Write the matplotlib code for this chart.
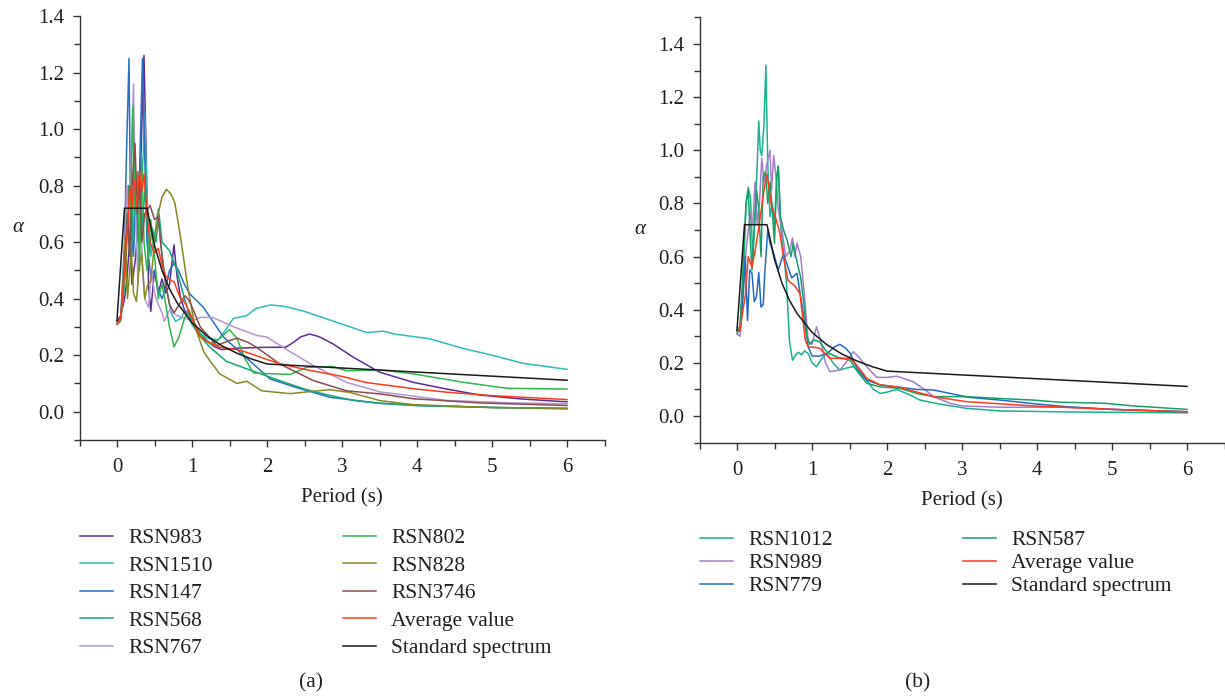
import matplotlib
matplotlib.use("Agg")
import matplotlib.pyplot as plt
from matplotlib.ticker import MultipleLocator, FormatStrFormatter
from matplotlib.lines import Line2D

plt.rcParams['font.family'] = ['Liberation Serif', 'DejaVu Serif']

# ---------------- Panel (a) data ----------------
rsn983_t = [0, 0.05, 0.1, 0.13, 0.17, 0.2, 0.25, 0.3, 0.33, 0.36, 0.39, 0.42, 0.45, 0.5, 0.55, 0.6, 0.65, 0.7,
            0.76, 0.8, 0.85, 0.9, 1.0, 1.1, 1.2, 1.3, 1.4, 1.6, 2.0, 2.25, 2.35, 2.45, 2.57, 2.7, 2.88, 3.15,
            3.5, 3.95, 4.4, 4.84, 5.4, 6.0]
rsn983_a = [0.32, 0.34, 0.40, 0.46, 0.61, 0.45, 0.55, 0.75, 1.0, 1.26, 0.9, 0.45, 0.355, 0.5, 0.42, 0.47, 0.42, 0.45,
            0.59, 0.48, 0.40, 0.36, 0.33, 0.28, 0.25, 0.23, 0.22, 0.225, 0.228, 0.228, 0.245, 0.265, 0.275, 0.265, 0.24, 0.193,
            0.14, 0.104, 0.08, 0.059, 0.045, 0.035]

rsn1510_t = [0, 0.05, 0.1, 0.15, 0.2, 0.25, 0.3, 0.34, 0.37, 0.4, 0.45, 0.5, 0.55, 0.58, 0.65, 0.72, 0.78, 0.85,
             0.9, 1.0, 1.1, 1.2, 1.35, 1.45, 1.55, 1.73, 1.85, 2.05, 2.25, 2.5, 3.0, 3.33, 3.55, 3.7, 4.17, 4.6,
             5.0, 5.42, 6.0]
rsn1510_a = [0.31, 0.33, 0.45, 0.7, 0.55, 0.8, 0.6, 0.85, 1.06, 0.75, 0.55, 0.62, 0.72, 0.6, 0.45, 0.35, 0.32, 0.33,
             0.355, 0.31, 0.28, 0.26, 0.255, 0.29, 0.33, 0.34, 0.365, 0.378, 0.372, 0.355, 0.31, 0.28, 0.285, 0.275, 0.258, 0.225,
             0.2, 0.171, 0.15]

rsn147_t = [0, 0.05, 0.1, 0.13, 0.16, 0.18, 0.22, 0.25, 0.28, 0.31, 0.34, 0.37, 0.4, 0.45, 0.5, 0.55, 0.6, 0.65,
            0.7, 0.76, 0.82, 0.9, 0.97, 1.15, 1.42, 1.77, 2.04, 2.4, 2.84, 3.5, 4.0, 5.0, 6.0]
rsn147_a = [0.32, 0.33, 0.6, 0.95, 1.25, 0.7, 0.55, 0.75, 0.6, 0.95, 1.25, 0.9, 0.6, 0.48, 0.5, 0.43, 0.4, 0.44,
            0.5, 0.525, 0.5, 0.45, 0.417, 0.37, 0.264, 0.18, 0.116, 0.085, 0.051, 0.03, 0.022, 0.015, 0.012]

rsn568_t = [0, 0.05, 0.1, 0.15, 0.2, 0.23, 0.26, 0.3, 0.33, 0.38, 0.42, 0.47, 0.52, 0.56, 0.6, 0.7, 0.8, 0.9,
            1.0, 1.1, 1.24, 1.46, 1.8, 2.17, 2.5, 2.8, 3.15, 3.5, 4.0, 5.0, 6.0]
rsn568_a = [0.31, 0.32, 0.5, 0.8, 0.6, 0.9, 0.7, 0.85, 0.65, 0.8, 0.55, 0.65, 0.6, 0.7, 0.6, 0.57, 0.5, 0.4,
            0.31, 0.27, 0.228, 0.178, 0.145, 0.11, 0.08, 0.06, 0.04, 0.03, 0.022, 0.015, 0.01]

rsn767_t = [0, 0.05, 0.1, 0.13, 0.16, 0.19, 0.22, 0.25, 0.28, 0.31, 0.34, 0.37, 0.42, 0.46, 0.5, 0.55, 0.6, 0.63,
            0.7, 0.8, 0.92, 1.0, 1.11, 1.28, 1.55, 1.86, 2.0, 2.26, 2.62, 3.06, 3.51, 4.4, 5.2, 6.0]
rsn767_a = [0.31, 0.33, 0.55, 0.8, 0.6, 0.9, 1.16, 0.7, 0.45, 0.75, 0.5, 0.4, 0.37, 0.5, 0.42, 0.38, 0.35, 0.32,
            0.36, 0.34, 0.33, 0.32, 0.334, 0.333, 0.301, 0.27, 0.264, 0.22, 0.163, 0.104, 0.07, 0.04, 0.032, 0.028]

rsn802_t = [0, 0.05, 0.1, 0.14, 0.17, 0.21, 0.24, 0.27, 0.3, 0.33, 0.36, 0.4, 0.45, 0.5, 0.55, 0.6, 0.65, 0.7,
            0.76, 0.82, 0.9, 0.96, 1.05, 1.15, 1.25, 1.35, 1.5, 1.6, 1.7, 1.82, 2.0, 2.31, 2.53, 2.88, 3.06,
            3.51, 3.95, 4.62, 5.2, 6.0]
rsn802_a = [0.31, 0.33, 0.45, 0.7, 0.55, 1.08, 0.7, 0.85, 0.5, 0.9, 0.6, 0.5, 0.68, 0.55, 0.4, 0.45, 0.38, 0.3,
            0.23, 0.26, 0.33, 0.36, 0.3, 0.26, 0.24, 0.255, 0.29, 0.26, 0.19, 0.137, 0.135, 0.132, 0.157, 0.16, 0.145,
            0.148, 0.134, 0.104, 0.083, 0.08]

rsn828_t = [0, 0.05, 0.08, 0.11, 0.14, 0.17, 0.19, 0.22, 0.26, 0.29, 0.33, 0.37, 0.41, 0.45, 0.5, 0.55, 0.6, 0.66,
            0.72, 0.77, 0.84, 0.95, 1.04, 1.16, 1.24, 1.37, 1.6, 1.73, 1.93, 2.31, 2.6, 2.84, 3.11, 3.51, 3.95,
            5.0, 6.0]
rsn828_a = [0.31, 0.33, 0.45, 0.62, 0.4, 0.5, 0.58, 0.42, 0.39, 0.5, 0.56, 0.4, 0.45, 0.46, 0.6, 0.7, 0.76, 0.787,
            0.77, 0.74, 0.63, 0.43, 0.3, 0.21, 0.18, 0.134, 0.1, 0.108, 0.074, 0.064, 0.072, 0.078, 0.068, 0.039, 0.025,
            0.015, 0.012]

rsn3746_t = [0, 0.05, 0.1, 0.14, 0.17, 0.2, 0.24, 0.27, 0.3, 0.33, 0.37, 0.44, 0.5, 0.55, 0.6, 0.65, 0.7, 0.76,
             0.83, 0.91, 0.97, 1.11, 1.33, 1.48, 1.6, 1.75, 1.86, 2.17, 2.62, 3.06, 3.51, 3.95, 4.84, 6.0]
rsn3746_a = [0.32, 0.33, 0.5, 0.7, 0.55, 0.8, 0.95, 0.7, 0.85, 0.6, 0.7, 0.73, 0.68, 0.69, 0.55, 0.45, 0.38, 0.35,
             0.38, 0.41, 0.39, 0.3, 0.234, 0.25, 0.26, 0.245, 0.228, 0.169, 0.11, 0.074, 0.063, 0.046, 0.031, 0.022]

avg_a_t = [0, 0.05, 0.1, 0.14, 0.17, 0.2, 0.23, 0.26, 0.3, 0.33, 0.36, 0.4, 0.44, 0.5, 0.55, 0.6, 0.65, 0.71,
           0.76, 0.84, 0.92, 1.0, 1.11, 1.2, 1.37, 1.6, 1.73, 2.0, 2.17, 2.5, 3.0, 3.33, 4.0, 4.4, 5.0, 6.0]
avg_a_a = [0.31, 0.33, 0.5, 0.65, 0.8, 0.72, 0.82, 0.72, 0.85, 0.78, 0.84, 0.7, 0.6, 0.56, 0.578, 0.52, 0.48, 0.466,
           0.46, 0.405, 0.38, 0.33, 0.264, 0.25, 0.228, 0.22, 0.21, 0.185, 0.17, 0.15, 0.125, 0.103, 0.08, 0.069, 0.057, 0.043]

# standard design spectrum
std_t = [0, 0.1, 0.4, 0.5, 0.6, 0.7, 0.8, 1.0, 1.2, 1.4, 1.6, 1.8, 2.0, 6.0]
std_a = [0.324, 0.72, 0.72, 0.589, 0.50, 0.435, 0.386, 0.315, 0.268, 0.233, 0.207, 0.186, 0.169, 0.1115]

# ---------------- Panel (b) data ----------------
rsn1012_t = [0, 0.04, 0.08, 0.12, 0.15, 0.18, 0.21, 0.24, 0.27, 0.29, 0.31, 0.33, 0.36, 0.385, 0.41, 0.44, 0.47, 0.5,
             0.53, 0.55, 0.58, 0.62, 0.66, 0.7, 0.74, 0.78, 0.82, 0.86, 0.9, 0.95, 1.0, 1.06, 1.14, 1.2, 1.28, 1.37,
             1.45, 1.55, 1.65, 1.73, 1.82, 1.91, 2.0, 2.13, 2.3, 2.44, 2.7, 3.06, 3.51, 4.5, 6.0]
rsn1012_a = [0.32, 0.34, 0.5, 0.8, 0.86, 0.82, 0.6, 0.75, 0.95, 1.11, 1.0, 0.98, 1.1, 1.32, 0.95, 0.75, 0.8, 0.72,
             0.9, 0.94, 0.72, 0.62, 0.5, 0.28, 0.21, 0.23, 0.24, 0.23, 0.245, 0.235, 0.2, 0.186, 0.22, 0.236, 0.2, 0.173,
             0.18, 0.186, 0.16, 0.135, 0.1, 0.085, 0.09, 0.1, 0.08, 0.06, 0.045, 0.029, 0.019, 0.015, 0.012]

rsn989_t = [0, 0.04, 0.08, 0.12, 0.15, 0.18, 0.21, 0.24, 0.27, 0.3, 0.33, 0.36, 0.4, 0.44, 0.46, 0.49, 0.52, 0.55,
            0.6, 0.65, 0.7, 0.74, 0.77, 0.8, 0.85, 0.9, 0.95, 1.0, 1.06, 1.12, 1.18, 1.24, 1.37, 1.45, 1.55, 1.63,
            1.73, 1.86, 2.0, 2.13, 2.35, 2.5, 2.62, 2.84, 3.0, 3.51, 4.4, 5.0, 6.0]
rsn989_a = [0.31, 0.30, 0.45, 0.62, 0.7, 0.76, 0.72, 0.88, 0.72, 0.8, 0.97, 0.88, 0.95, 1.0, 0.85, 0.98, 0.9, 0.78,
            0.7, 0.6, 0.62, 0.67, 0.6, 0.65, 0.6, 0.45, 0.28, 0.27, 0.336, 0.28, 0.2, 0.167, 0.173, 0.2, 0.242, 0.22,
            0.186, 0.146, 0.145, 0.15, 0.129, 0.1, 0.073, 0.048, 0.038, 0.033, 0.033, 0.025, 0.016]

rsn779_t = [0, 0.04, 0.08, 0.11, 0.14, 0.17, 0.2, 0.23, 0.26, 0.29, 0.32, 0.35, 0.37, 0.41, 0.44, 0.48, 0.55, 0.62,
            0.68, 0.73, 0.8, 0.87, 0.95, 1.0, 1.1, 1.2, 1.3, 1.37, 1.45, 1.51, 1.6, 1.73, 1.91, 2.17, 2.4, 2.62,
            2.84, 3.1, 3.51, 4.0, 4.4, 5.0, 6.0]
rsn779_a = [0.32, 0.32, 0.45, 0.6, 0.36, 0.55, 0.537, 0.43, 0.45, 0.54, 0.41, 0.42, 0.537, 0.7, 0.65, 0.62, 0.55, 0.61,
            0.56, 0.52, 0.537, 0.41, 0.26, 0.226, 0.225, 0.236, 0.26, 0.27, 0.255, 0.236, 0.18, 0.135, 0.117, 0.108, 0.1, 0.098,
            0.085, 0.07, 0.06, 0.045, 0.035, 0.025, 0.016]

rsn587_t = [0, 0.04, 0.08, 0.12, 0.15, 0.18, 0.2, 0.23, 0.26, 0.29, 0.32, 0.35, 0.38, 0.41, 0.44, 0.47, 0.5, 0.53,
            0.55, 0.58, 0.62, 0.67, 0.72, 0.75, 0.8, 0.85, 0.9, 0.93, 0.97, 1.02, 1.1, 1.2, 1.35, 1.51, 1.6, 1.73,
            1.9, 2.17, 2.4, 2.62, 3.06, 3.5, 3.95, 4.3, 4.62, 4.9, 5.28, 6.0]
rsn587_a = [0.31, 0.33, 0.55, 0.8, 0.85, 0.65, 0.55, 0.7, 0.85, 0.78, 0.6, 0.9, 0.92, 0.8, 0.88, 0.78, 0.65, 0.9,
            0.94, 0.75, 0.7, 0.66, 0.6, 0.65, 0.58, 0.52, 0.4, 0.3, 0.27, 0.286, 0.28, 0.24, 0.22, 0.21, 0.17, 0.123,
            0.11, 0.104, 0.085, 0.073, 0.073, 0.066, 0.06, 0.052, 0.05, 0.048, 0.038, 0.025]

avg_b_t = [0, 0.04, 0.08, 0.11, 0.15, 0.2, 0.24, 0.28, 0.33, 0.36, 0.4, 0.43, 0.46, 0.51, 0.57, 0.62, 0.68, 0.77,
           0.84, 0.91, 0.95, 1.05, 1.1, 1.24, 1.51, 1.6, 1.73, 1.91, 2.17, 2.4, 2.62, 3.06, 3.95, 5.0, 6.0]
avg_b_a = [0.32, 0.32, 0.40, 0.45, 0.6, 0.56, 0.62, 0.69, 0.79, 0.85, 0.91, 0.85, 0.79, 0.75, 0.69, 0.6, 0.51, 0.49,
           0.46, 0.286, 0.26, 0.258, 0.255, 0.217, 0.217, 0.19, 0.142, 0.117, 0.108, 0.09, 0.073, 0.054, 0.038, 0.025, 0.016]

# ---------------- styling ----------------
labels_a = ["RSN983", "RSN1510", "RSN147", "RSN568", "RSN767",
            "RSN802", "RSN828", "RSN3746", "Average value", "Standard spectrum"]
colors_a = ["#5c2d91", "#2bbcbc", "#2771c0", "#12a879", "#b496d2",
            "#2db84a", "#878a1e", "#8c4b4b", "#ff3a1a", "#1a1a1a"]
series_a = [(rsn983_t, rsn983_a), (rsn1510_t, rsn1510_a), (rsn147_t, rsn147_a), (rsn568_t, rsn568_a),
            (rsn767_t, rsn767_a), (rsn802_t, rsn802_a), (rsn828_t, rsn828_a), (rsn3746_t, rsn3746_a),
            (avg_a_t, avg_a_a), (std_t, std_a)]

labels_b = ["RSN1012", "RSN989", "RSN779", "RSN587", "Average value", "Standard spectrum"]
colors_b = ["#19b38e", "#a67ccc", "#1f6cc4", "#12a267", "#ff3a1a", "#1a1a1a"]
series_b = [(rsn1012_t, rsn1012_a), (rsn989_t, rsn989_a), (rsn779_t, rsn779_a), (rsn587_t, rsn587_a),
            (avg_b_t, avg_b_a), (std_t, std_a)]

W, H = 1225, 697
fig = plt.figure(figsize=(W / 100, H / 100), dpi=100)

ax1 = fig.add_axes([79.5 / W, 1 - 440 / H, 525 / W, (440 - 16) / H])
ax2 = fig.add_axes([699.5 / W, 1 - 442.6 / H, 525 / W, (442.6 - 17.4) / H])

txtcol = "#231f20"
tickfs = 15

def style(ax, ytop):
    ax.set_xlim(-0.5, 6.5)
    ax.set_ylim(-0.1, ytop)
    for s in ("top", "right"):
        ax.spines[s].set_visible(False)
    for s in ("left", "bottom"):
        ax.spines[s].set_color("#333333")
        ax.spines[s].set_linewidth(1.0)
    ax.xaxis.set_major_locator(MultipleLocator(1))
    ax.xaxis.set_minor_locator(MultipleLocator(0.5))
    ax.yaxis.set_major_locator(MultipleLocator(0.2))
    ax.yaxis.set_minor_locator(MultipleLocator(0.1))
    ax.yaxis.set_major_formatter(FormatStrFormatter("%.1f"))
    ax.tick_params(which="major", direction="out", length=5, width=1.0, color="#333333",
                   labelsize=tickfs, labelcolor=txtcol, pad=6)
    ax.tick_params(axis="x", which="major", pad=8)
    ax.tick_params(which="minor", direction="out", length=4, width=1.0, color="#333333")
    ax.set_xlabel("Period (s)", fontsize=tickfs, color=txtcol, labelpad=8)

style(ax1, 1.4)
style(ax2, 1.5)
ax1.set_yticks([0.0, 0.2, 0.4, 0.6, 0.8, 1.0, 1.2, 1.4])
ax2.set_yticks([0.0, 0.2, 0.4, 0.6, 0.8, 1.0, 1.2, 1.4])

for (t, a), c, lab in zip(series_a, colors_a, labels_a):
    ax1.plot(t, a, color=c, lw=1.1, label=lab)
for (t, a), c, lab in zip(series_b, colors_b, labels_b):
    ax2.plot(t, a, color=c, lw=1.1, label=lab)

fig.text(18 / W, 1 - 227 / H, "α", fontsize=tickfs, style="italic", color=txtcol, ha="center", va="center")
fig.text(640 / W, 1 - 230 / H, "α", fontsize=tickfs, style="italic", color=txtcol, ha="center", va="center")

legfs = 15.5

def add_leg(labels, colors, x, y, spacing):
    handles = [Line2D([], [], color=c, lw=1.1) for c in colors]
    leg = fig.legend(handles, labels, loc="upper left", bbox_to_anchor=(x / W, 1 - y / H),
                     frameon=False, fontsize=legfs, handlelength=1.53, handletextpad=0.7,
                     labelspacing=spacing, borderpad=0, borderaxespad=0)
    for tx in leg.get_texts():
        tx.set_color(txtcol)
    return leg

add_leg(labels_a[:5], colors_a[:5], 80, 528, 0.35)
add_leg(labels_a[5:], colors_a[5:], 343, 528, 0.35)
add_leg(labels_b[:3], colors_b[:3], 700, 530, 0.14)
add_leg(labels_b[3:], colors_b[3:], 963, 530, 0.14)

fig.text(311 / W, 1 - 683 / H, "(a)", fontsize=legfs, color=txtcol, ha="center", va="center")
fig.text(918 / W, 1 - 683 / H, "(b)", fontsize=legfs, color=txtcol, ha="center", va="center")

fig.savefig("out.png", dpi=100)
